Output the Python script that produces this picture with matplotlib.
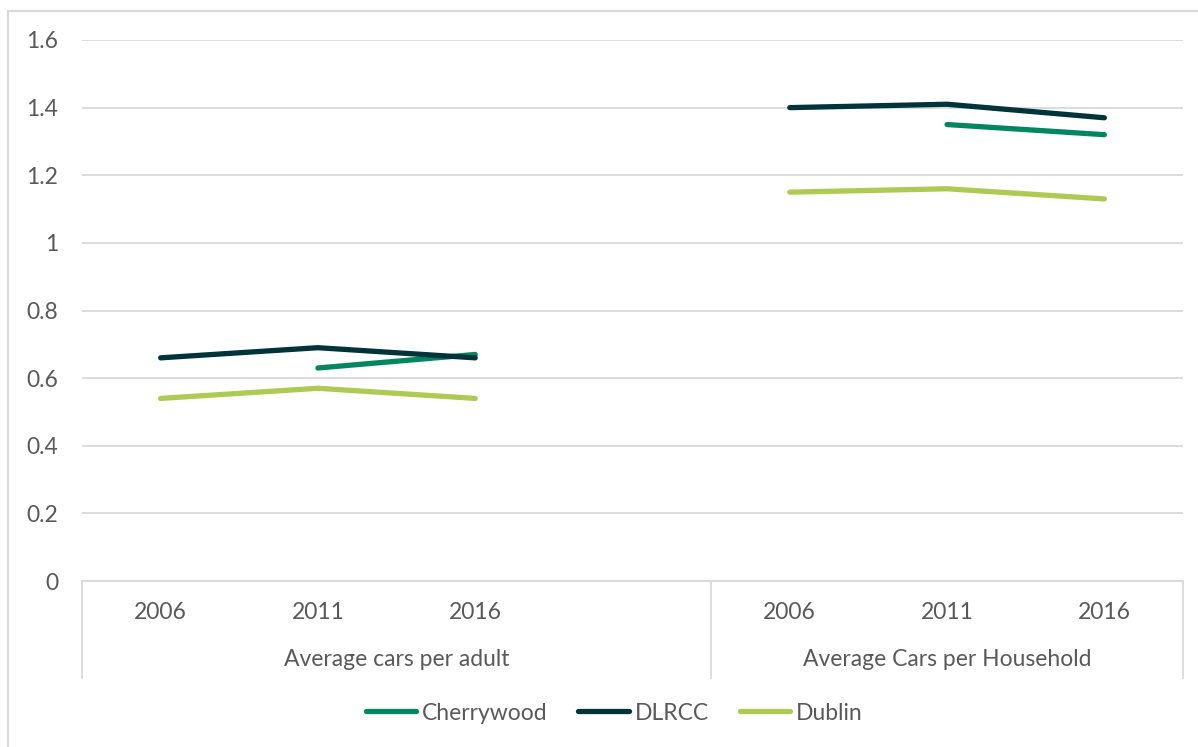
import numpy as np
import matplotlib
matplotlib.use("Agg")
import matplotlib.pyplot as plt
from matplotlib.lines import Line2D
from matplotlib.patches import Rectangle
import matplotlib.transforms as mtransforms

plt.rcParams['font.family'] = ['Lato', 'DejaVu Sans']

# categories: two groups of census years, blank slot in between
years = ["2006", "2011", "2016", "", "2006", "2011", "2016"]
groups = ["Average cars per adult", "Average Cars per Household"]

cherrywood = [np.nan, 0.63, 0.67, np.nan, np.nan, 1.35, 1.32]
dlrcc = [0.66, 0.69, 0.66, np.nan, 1.40, 1.41, 1.37]
dublin = [0.54, 0.57, 0.54, np.nan, 1.15, 1.16, 1.13]

grey_txt = '#595959'
grid_col = '#d9d9d9'
fs = 16.5

fig = plt.figure(figsize=(11.98, 7.47), dpi=100)
W, H = 1198, 747
ax = fig.add_axes([82 / W, 1 - 581 / H, (1183 - 82) / W, (581 - 40) / H])

x = np.arange(len(years))
ax.plot(x, cherrywood, color='#00875f', lw=3.8, solid_capstyle='round', label='Cherrywood', zorder=3)
ax.plot(x, dlrcc, color='#00333a', lw=3.8, solid_capstyle='round', label='DLRCC', zorder=3)
ax.plot(x, dublin, color='#adcb52', lw=3.8, solid_capstyle='round', label='Dublin', zorder=3)

ax.set_xlim(-0.5, len(years) - 0.5)
ax.set_ylim(0, 1.6)
ax.set_yticks([0, 0.2, 0.4, 0.6, 0.8, 1, 1.2, 1.4, 1.6])
ax.set_yticklabels(['0', '0.2', '0.4', '0.6', '0.8', '1', '1.2', '1.4', '1.6'])
ax.yaxis.grid(True, color=grid_col, lw=1.3)
ax.set_axisbelow(True)
ax.tick_params(axis='y', length=0, pad=17, labelsize=fs, labelcolor=grey_txt)

ax.set_xticks(x)
ax.set_xticklabels(years)
ax.tick_params(axis='x', length=0, pad=15, labelsize=fs, labelcolor=grey_txt)

for s in ['top', 'right', 'left']:
    ax.spines[s].set_visible(False)
ax.spines['bottom'].set_color(grid_col)
ax.spines['bottom'].set_linewidth(1.3)

# group separators and group labels under the year ticks
trans = mtransforms.blended_transform_factory(ax.transData, ax.transAxes)
sep_bottom = -(678 - 581) / (581 - 40)
for xs in [-0.5, 3.5, 6.5]:
    ax.add_line(Line2D([xs, xs], [0, sep_bottom], transform=trans, color=grid_col,
                       lw=1.3, clip_on=False))
lab_y = -(660 - 581) / (581 - 40)
ax.text(1.5, lab_y, groups[0], transform=trans, ha='center', va='center',
        fontsize=fs, color=grey_txt)
ax.text(5.0, lab_y, groups[1], transform=trans, ha='center', va='center',
        fontsize=fs, color=grey_txt)

fig.legend(loc='center', bbox_to_anchor=(614 / W, 1 - 713 / H), ncol=3, frameon=False,
           fontsize=fs, labelcolor=grey_txt, handlelength=2.2, handletextpad=0.25,
           columnspacing=1.35)

# light frame round the chart
fig.add_artist(Rectangle((8 / W, -0.05), 1.1, 1 - 11 / H + 0.05, transform=fig.transFigure,
                         fill=False, edgecolor=grid_col, lw=1.5))

fig.savefig('out.png', dpi=100)
